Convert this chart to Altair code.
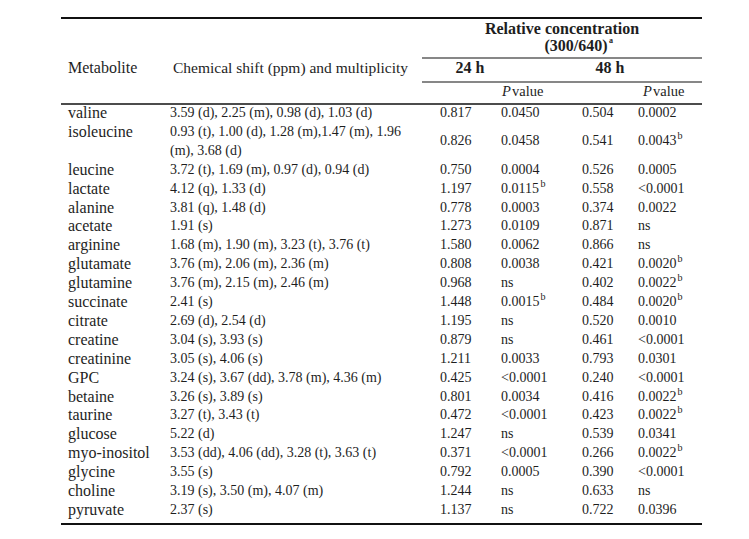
import altair as alt
import pandas as pd

# ---------------- data ----------------
metabolites = ["valine", "isoleucine", "leucine", "lactate", "alanine", "acetate",
               "arginine", "glutamate", "glutamine", "succinate", "citrate", "creatine",
               "creatinine", "GPC", "betaine", "taurine", "glucose", "myo-inositol",
               "glycine", "choline", "pyruvate"]
shifts = [
    ["3.59 (d), 2.25 (m), 0.98 (d), 1.03 (d)"],
    ["0.93 (t), 1.00 (d), 1.28 (m),1.47 (m), 1.96", "(m), 3.68 (d)"],
    ["3.72 (t), 1.69 (m), 0.97 (d), 0.94 (d)"],
    ["4.12 (q), 1.33 (d)"],
    ["3.81 (q), 1.48 (d)"],
    ["1.91 (s)"],
    ["1.68 (m), 1.90 (m), 3.23 (t), 3.76 (t)"],
    ["3.76 (m), 2.06 (m), 2.36 (m)"],
    ["3.76 (m), 2.15 (m), 2.46 (m)"],
    ["2.41 (s)"],
    ["2.69 (d), 2.54 (d)"],
    ["3.04 (s), 3.93 (s)"],
    ["3.05 (s), 4.06 (s)"],
    ["3.24 (s), 3.67 (dd), 3.78 (m), 4.36 (m)"],
    ["3.26 (s), 3.89 (s)"],
    ["3.27 (t), 3.43 (t)"],
    ["5.22 (d)"],
    ["3.53 (dd), 4.06 (dd), 3.28 (t), 3.63 (t)"],
    ["3.55 (s)"],
    ["3.19 (s), 3.50 (m), 4.07 (m)"],
    ["2.37 (s)"],
]
rel_24 = ["0.817", "0.826", "0.750", "1.197", "0.778", "1.273", "1.580", "0.808", "0.968",
          "1.448", "1.195", "0.879", "1.211", "0.425", "0.801", "0.472", "1.247", "0.371",
          "0.792", "1.244", "1.137"]
p_24 = ["0.0450", "0.0458", "0.0004", "0.0115", "0.0003", "0.0109", "0.0062", "0.0038", "ns",
        "0.0015", "ns", "ns", "0.0033", "<0.0001", "0.0034", "<0.0001", "ns", "<0.0001",
        "0.0005", "ns", "ns"]
p_24_note = ["", "", "", "b", "", "", "", "", "", "b", "", "", "", "", "", "", "", "", "", "", ""]
rel_48 = ["0.504", "0.541", "0.526", "0.558", "0.374", "0.871", "0.866", "0.421", "0.402",
          "0.484", "0.520", "0.461", "0.793", "0.240", "0.416", "0.423", "0.539", "0.266",
          "0.390", "0.633", "0.722"]
p_48 = ["0.0002", "0.0043", "0.0005", "<0.0001", "0.0022", "ns", "ns", "0.0020", "0.0022",
        "0.0020", "0.0010", "<0.0001", "0.0301", "<0.0001", "0.0022", "0.0022", "0.0341",
        "0.0022", "<0.0001", "ns", "0.0396"]
p_48_note = ["", "b", "", "", "", "", "", "b", "b", "b", "", "", "", "", "b", "b", "", "b", "", "", ""]

# ---------------- layout ----------------
FONT = "Liberation Serif"
COLOR = "#1e1e1e"
X_MET, X_SHIFT, X_R24, X_P24, X_R48, X_P48 = 68, 170, 440, 501, 582, 638
Y0, STEP = 113, 18.9
SUP_DX = 39.5

names, body, sup = [], [], []
line = 0
for i, name in enumerate(metabolites):
    n = len(shifts[i])
    yc = Y0 + STEP * (line + (n - 1) / 2)
    names.append({"x": X_MET, "y": Y0 + STEP * line, "t": name})
    for k, s in enumerate(shifts[i]):
        body.append({"x": X_SHIFT, "y": Y0 + STEP * (line + k), "t": s})
    body.append({"x": X_R24, "y": yc, "t": rel_24[i]})
    body.append({"x": X_P24, "y": yc, "t": p_24[i]})
    body.append({"x": X_R48, "y": yc, "t": rel_48[i]})
    body.append({"x": X_P48, "y": yc, "t": p_48[i]})
    if p_24_note[i]:
        sup.append({"x": X_P24 + SUP_DX, "y": yc - 5, "t": p_24_note[i]})
    if p_48_note[i]:
        sup.append({"x": X_P48 + SUP_DX, "y": yc - 5, "t": p_48_note[i]})
    line += n

head_met = [{"x": 68, "y": 68, "t": "Metabolite"}]
head_shift = [{"x": 173, "y": 68, "t": "Chemical shift (ppm) and multiplicity"}]
head_value = [{"x": 512, "y": 92, "t": "value"}, {"x": 653, "y": 92, "t": "value"}]
head_italic = [{"x": 502, "y": 92, "t": "P"}, {"x": 643, "y": 92, "t": "P"}]
head_bold = [
    {"x": 562, "y": 29, "t": "Relative concentration"},
    {"x": 576, "y": 46, "t": "(300/640)"},
    {"x": 470, "y": 68, "t": "24 h"},
    {"x": 610, "y": 68, "t": "48 h"},
]
sup_a = [{"x": 609, "y": 41, "t": "a"}]

rules = pd.DataFrame([
    {"x": 61, "x2": 702, "y": 18, "w": 2},
    {"x": 422, "x2": 702, "y": 58, "w": 1.2},
    {"x": 422, "x2": 702, "y": 82, "w": 1.2},
    {"x": 61, "x2": 702, "y": 104, "w": 1.6},
    {"x": 61, "x2": 702, "y": 524, "w": 1.8},
])

W, H = 728, 518
xs = alt.Scale(domain=[8, 8 + W], nice=False, zero=False)
ys = alt.Scale(domain=[8, 8 + H], nice=False, zero=False, reverse=True)


def txt(rows, align="left", size=14, weight="normal", style="normal", baseline="middle"):
    return alt.Chart(pd.DataFrame(rows)).mark_text(
        align=align, baseline=baseline, font=FONT, fontSize=size,
        fontWeight=weight, fontStyle=style, color=COLOR
    ).encode(
        x=alt.X("x:Q", scale=xs, axis=None),
        y=alt.Y("y:Q", scale=ys, axis=None),
        text="t:N",
    )


rule_layer = alt.Chart(rules).mark_rule(color="#111").encode(
    x=alt.X("x:Q", scale=xs, axis=None),
    x2="x2:Q",
    y=alt.Y("y:Q", scale=ys, axis=None),
    strokeWidth=alt.StrokeWidth("w:Q", scale=None),
)

chart = alt.layer(
    rule_layer,
    txt(names, size=16),
    txt(body, size=14),
    txt(head_met, size=16),
    txt(head_shift, size=15.5),
    txt(head_value, size=14.5),
    txt(head_italic, size=14.5, style="italic"),
    txt(head_bold, align="center", size=16, weight="bold"),
    txt(sup, size=10),
    txt(sup_a, size=8, weight="bold"),
).properties(width=W, height=H, padding=0, background="white").configure_view(stroke=None)

chart.save("out.html", embed_options={"renderer": "svg", "actions": False})
